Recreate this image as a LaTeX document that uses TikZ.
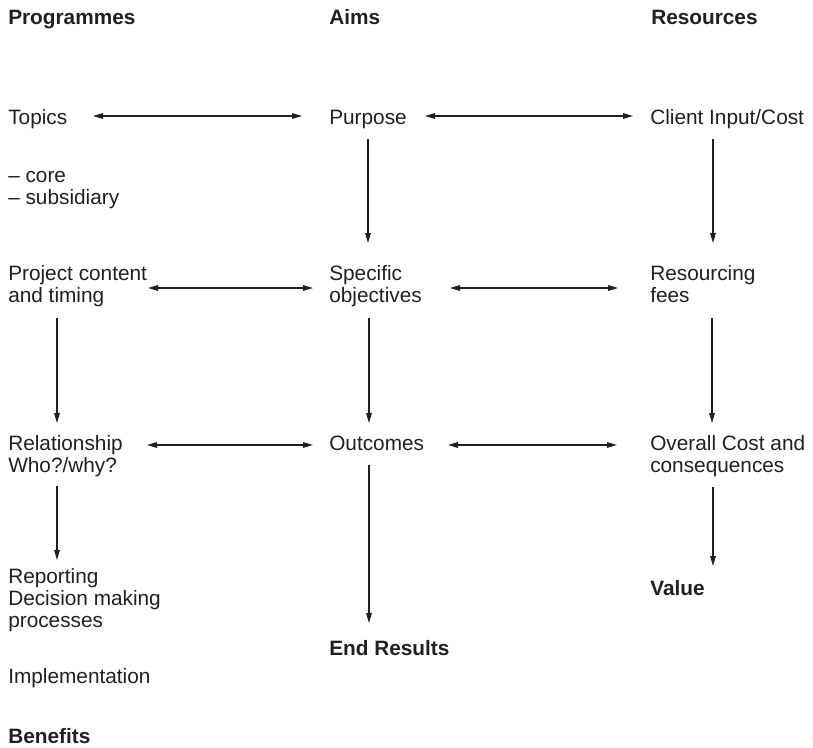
\documentclass[tikz,border=0pt]{standalone}
\usepackage{fontspec}
\setmainfont{Liberation Sans}
\usetikzlibrary{arrows.meta,calc}
\definecolor{ink}{HTML}{231F20}
% multi-line labels are placed by the baseline of their last line
\tikzset{
  lbl/.style={anchor=base west, inner sep=0pt, align=left, text=ink,
    font=\fontsize{15.6pt}{16.5pt}\selectfont},
  head/.style={lbl, font=\fontsize{15.6pt}{16.5pt}\selectfont\bfseries},
  tip/.tip={Triangle[length=7.5pt,width=4.2pt]},
  arr/.style={draw=ink, line width=0.9pt, -tip},
  biarr/.style={draw=ink, line width=0.9pt, tip-tip}
}
\begin{document}
\begin{tikzpicture}[x=0.75pt, y=-0.75pt]
\useasboundingbox (0,0) rectangle (813,747);

% column headings
\node[head] (hprog) at (8,24) {Programmes};
\node[head] (haims) at (329,24) {Aims};
\node[head] (hres) at (651,24) {Resources};

% first row
\node[lbl] (topics) at (8,124) {Topics};
\node[lbl] (purpose) at (329,124) {Purpose};
\node[lbl] (client) at (650,124) {Client Input/Cost};
\node[lbl] (core) at (8,204) {– core\\– subsidiary};

% second row
\node[lbl] (project) at (8,302) {Project content\\and timing};
\node[lbl] (specific) at (329,302) {Specific\\objectives};
\node[lbl] (resourcing) at (650,302) {Resourcing\\fees};

% third row
\node[lbl] (relation) at (8,472) {Relationship\\Who?/why?};
\node[lbl] (outcomes) at (329,450) {Outcomes};
\node[lbl] (overall) at (650,472) {Overall Cost and\\consequences};

% results
\node[lbl] (reporting) at (8,627) {Reporting\\Decision making\\processes};
\node[lbl] (implementation) at (8,683) {Implementation};
\node[head] (benefits) at (8,743) {Benefits};
\node[head] (endresults) at (329,655) {End Results};
\node[head] (value) at (650,595) {Value};

% horizontal links
\draw[biarr] ($(topics.base west)+(85,-8)$) -- ($(purpose.base west)+(-27,-8)$);
\draw[biarr] ($(purpose.base west)+(96,-8)$) -- ($(client.base west)+(-17,-8)$);
\draw[biarr] ($(project.base west)+(140,-14)$) -- ($(specific.base west)+(-16,-14)$);
\draw[biarr] ($(specific.base west)+(121,-14)$) -- ($(resourcing.base west)+(-32,-14)$);
\draw[biarr] ($(relation.base west)+(139,-27)$) -- ($(outcomes.base west)+(-16,-5)$);
\draw[biarr] ($(outcomes.base west)+(119,-5)$) -- ($(overall.base west)+(-33,-27)$);

% vertical links
\draw[arr] ($(purpose.base west)+(39,15)$) -- ($(specific.base west)+(39,-59)$);
\draw[arr] ($(client.base west)+(63,15)$) -- ($(resourcing.base west)+(63,-59)$);
\draw[arr] ($(project.base west)+(49,16)$) -- ($(relation.base west)+(49,-49)$);
\draw[arr] ($(specific.base west)+(40,16)$) -- ($(outcomes.base west)+(40,-27)$);
\draw[arr] ($(resourcing.base west)+(62,16)$) -- ($(overall.base west)+(62,-49)$);
\draw[arr] ($(relation.base west)+(49,14)$) -- ($(reporting.base west)+(49,-67)$);
\draw[arr] ($(outcomes.base west)+(40,15)$) -- ($(endresults.base west)+(40,-32)$);
\draw[arr] ($(overall.base west)+(63,15)$) -- ($(value.base west)+(63,-29)$);
\end{tikzpicture}
\end{document}
